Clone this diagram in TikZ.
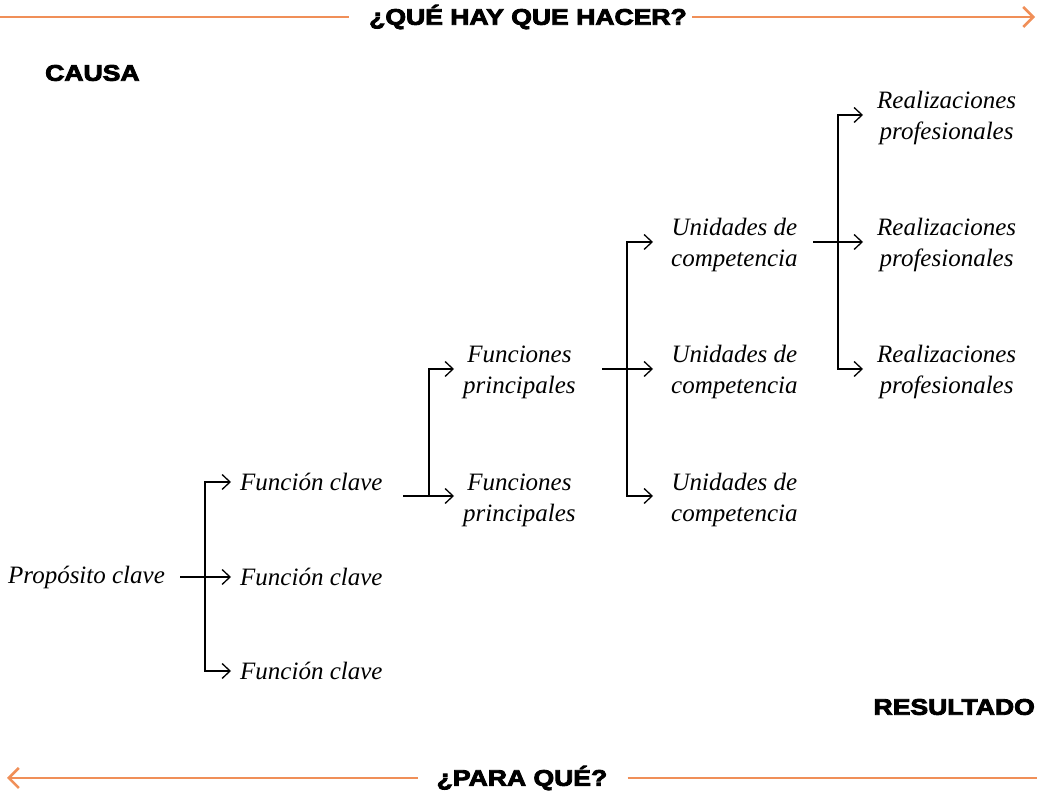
\documentclass[tikz,border=0pt]{standalone}
\usepackage{fontspec}
\setmainfont{Liberation Serif}
\newfontfamily\titfont{Liberation Sans}[FakeStretch=1.18,BoldFeatures={FakeBold=4}]
\usetikzlibrary{arrows.meta}
\definecolor{naranja}{RGB}{240,143,88}
\tikzset{
    texto/.style={anchor=west,inner sep=0pt,align=center,font=\fontsize{25}{31}\selectfont\itshape},
    titulo/.style={inner sep=0pt,font=\fontsize{22.5}{26}\selectfont\titfont\bfseries},
    flecha/.style={line width=1.3pt,-{Straight Barb[length=8pt,width=15pt]}},
    horquilla/.style={line width=1.3pt,{Straight Barb[length=8pt,width=15pt]}-{Straight Barb[length=8pt,width=15pt]}},
    guia/.style={naranja,line width=2.5pt},
    guiaflecha/.style={guia,-{Straight Barb[length=10pt,width=20pt]}}
}
\begin{document}
\begin{tikzpicture}[x=1pt,y=1pt]
        \useasboundingbox (0,0) rectangle (1043,794);
        % titulos y ejes
        \node[titulo] (hacer) at (528,777) {¿QUÉ HAY QUE HACER?};
        \node[titulo] (para) at (522,16) {¿PARA QUÉ?};
        \node[titulo,anchor=west] (causa) at (45,721) {CAUSA};
        \node[titulo,anchor=east] (resultado) at (1035,87) {RESULTADO};
        \coordinate (arriba izq) at (0,777);
        \coordinate (arriba der) at (1035,777);
        \coordinate (abajo izq) at (7,16);
        \coordinate (abajo der) at (1037,16);
        \draw[guia] (arriba izq) -- ([xshift=-20pt]hacer.west);
        \draw[guiaflecha] ([xshift=5pt]hacer.east) -- (arriba der);
        \draw[guiaflecha] ([xshift=-19pt]para.west) -- (abajo izq);
        \draw[guia] ([xshift=20pt]para.east) -- (abajo der);
        % arbol
        \node[texto] (prop) at (8,217) {Propósito clave};
        \node[texto] (fc1) at (240,312) {Función clave};
        \node[texto] (fc2) at (240,217) {Función clave};
        \node[texto] (fc3) at (240,123) {Función clave};
        \node[texto] (fp1) at (463,422) {Funciones\\principales};
        \node[texto] (fp2) at (463,294) {Funciones\\principales};
        \node[texto] (uc1) at (671,549) {Unidades de\\competencia};
        \node[texto] (uc2) at (671,422) {Unidades de\\competencia};
        \node[texto] (uc3) at (671,294) {Unidades de\\competencia};
        \node[texto] (rp1) at (877,676) {Realizaciones\\profesionales};
        \node[texto] (rp2) at (877,549) {Realizaciones\\profesionales};
        \node[texto] (rp3) at (877,422) {Realizaciones\\profesionales};
        \draw[flecha] ([xshift=-60pt]fc2.west) -- ([xshift=-9pt]fc2.west);
        \draw[horquilla] ([xshift=-9pt]fc1.west) -| ([xshift=-35pt]fc3.west) -- ([xshift=-9pt]fc3.west);
        \draw[flecha] ([xshift=-60pt,yshift=4pt]fp2.west) -- ([xshift=-9pt,yshift=4pt]fp2.west);
        \draw[flecha] ([xshift=-34pt,yshift=4pt]fp2.west) |- ([xshift=-9pt,yshift=3pt]fp1.west);
        \draw[flecha] ([xshift=-69pt,yshift=3pt]uc2.west) -- ([xshift=-18pt,yshift=3pt]uc2.west);
        \draw[horquilla] ([xshift=-18pt,yshift=3pt]uc1.west) -| ([xshift=-44pt,yshift=4pt]uc3.west) -- ([xshift=-18pt,yshift=4pt]uc3.west);
        \draw[flecha] ([xshift=-64pt,yshift=3pt]rp2.west) -- ([xshift=-14pt,yshift=3pt]rp2.west);
        \draw[horquilla] ([xshift=-14pt,yshift=3pt]rp1.west) -| ([xshift=-39pt,yshift=3pt]rp3.west) -- ([xshift=-14pt,yshift=3pt]rp3.west);
    \end{tikzpicture}
\end{document}
